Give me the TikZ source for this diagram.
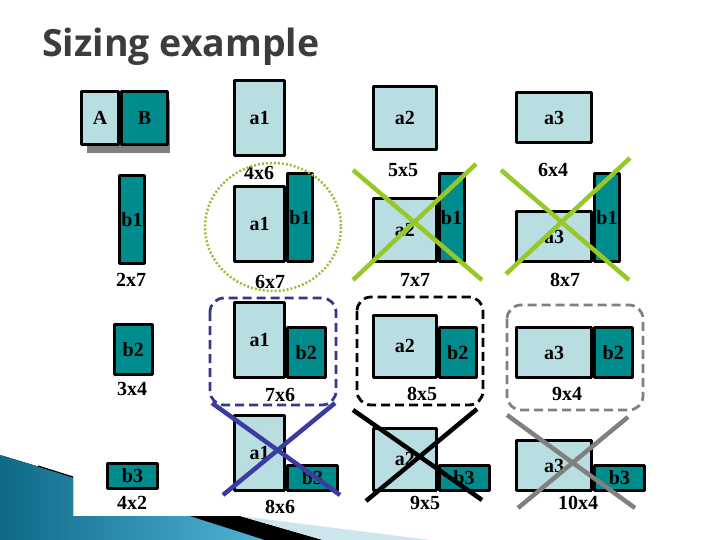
\documentclass[tikz,border=0pt]{standalone}
\usepackage{fontspec}
\setmainfont{Liberation Serif}
\newfontfamily\titlefont{Open Sans}
\usetikzlibrary{positioning}
\definecolor{lightpiece}{RGB}{185,222,226}
\definecolor{tealpiece}{RGB}{0,140,140}
\definecolor{titlegray}{RGB}{60,60,60}
\definecolor{okgreen}{RGB}{155,190,55}
\definecolor{xgreen}{RGB}{150,200,40}
\definecolor{navy}{RGB}{55,55,140}
\definecolor{xnavy}{RGB}{60,60,160}
\definecolor{midgray}{RGB}{128,128,128}
\definecolor{wavedark}{RGB}{15,105,135}
\definecolor{wavelight}{RGB}{80,180,215}
\definecolor{wavepale}{RGB}{205,230,238}
\tikzset{
	piece/.style={draw=black, line width=3pt, inner sep=0pt, anchor=south west,
		font=\bfseries\fontsize{20}{20}\selectfont},
	pa/.style={piece, fill=lightpiece},
	pb/.style={piece, fill=tealpiece},
	size a1/.style={pa, minimum width=50pt, minimum height=75pt},
	size a2/.style={pa, minimum width=62.5pt, minimum height=62.5pt},
	size a3/.style={pa, minimum width=75pt, minimum height=50pt},
	size b1/.style={pb, minimum width=25pt, minimum height=87.5pt},
	size b2/.style={pb, minimum width=37.5pt, minimum height=50pt},
	size b3/.style={pb, minimum width=50pt, minimum height=25pt},
	dimlabel/.style={font=\bfseries\fontsize{20}{20}\selectfont, inner sep=1pt},
	cross/.style={line width=4.5pt, line cap=butt},
	choice/.style={line width=2.8pt, dash pattern=on 9pt off 5pt, rounded corners=14pt}
}
\begin{document}
\begin{tikzpicture}[x=1pt,y=-1pt,line join=round]
	\useasboundingbox (0,0) rectangle (720,540);
	% Bottom wave of the slide
	\fill[left color=wavedark, right color=wavelight] (0,455) -- (73,477) -- (73,516) -- (190,516) -- (265,540) -- (0,540) -- cycle;
	\fill[black] (190,516) -- (240,516) -- (323,540) -- (265,540) -- cycle;
	\fill[wavepale] (240,516) -- (430,540) -- (323,540) -- cycle;
	\draw[line width=1.2pt] (38,466) -- (73,477);
	
	% Title
	\node[anchor=base west, inner sep=0pt, text=titlegray, font=\titlefont\bfseries\fontsize{37.5}{37.5}\selectfont] (title) at (42,57) {Sizing example};
	
	% Box A|B with its shadow
	\fill[midgray] (87,100) rectangle (170,153);
	\node[pa, minimum width=37pt, minimum height=53pt] (A) at (80,146) {A};
	\node[pb, minimum width=46pt, minimum height=53pt] (B) at (A.south east) {B};
	
	% Single pieces
	\node[size a1] (a1) at (233,157) {a1};
	\node[size a2] (a2) at (372,151) {a2};
	\node[size a3] (a3) at (515,144) {a3};
	\node[size b1] (b1) at (118,265) {b1};
	\node[size b2] (b2) at (113,376) {b2};
	\node[size b3] (b3) at (106,490) {b3};
	
	% Pairs with b1
	\node[size a1] (a1b1) at (233,263) {a1};
	\node[size b1] (b1a1) at (a1b1.south east) {b1};
	\node[size a2] (a2b1) at (372,263) {a2};
	\node[size b1] (b1a2) at (a2b1.south east) {b1};
	\node[size a3] (a3b1) at (515,263) {a3};
	\node[size b1] (b1a3) at (a3b1.south east) {b1};
	
	% Pairs with b2
	\node[size a1] (a1b2) at (233,379) {a1};
	\node[size b2] (b2a1) at (a1b2.south east) {b2};
	\node[size a2] (a2b2) at (372,379) {a2};
	\node[size b2] (b2a2) at (a2b2.south east) {b2};
	\node[size a3] (a3b2) at (515,379) {a3};
	\node[size b2] (b2a3) at (a3b2.south east) {b2};
	
	% Pairs with b3
	\node[size a1] (a1b3) at (233,492) {a1};
	\node[size b3] (b3a1) at (a1b3.south east) {b3};
	\node[size a2] (a2b3) at (372,492) {a2};
	\node[size b3] (b3a2) at (a2b3.south east) {b3};
	\node[size a3] (a3b3) at (515,492) {a3};
	\node[size b3] (b3a3) at (a3b3.south east) {b3};
	
	% Size labels
	\foreach \t/\x/\y in {4x6/259/173, 5x5/403/170, 6x4/553/170, 2x7/131/280, 6x7/270/282,
		7x7/415/280, 8x7/565/280, 3x4/132/389, 7x6/280/395, 8x5/422/394, 9x4/567/394,
		4x2/132/503, 8x6/280/507, 9x5/425/503, 10x4/578/503}
	\node[dimlabel] (l\t) at (\x,\y) {\t};
	
	% Kept pairs
	\draw[okgreen, line width=2.5pt, dash pattern=on 2pt off 2pt] (273,227) ellipse [x radius=68, y radius=64];
	\draw[choice, navy] (210,298) rectangle (336,405);
	\draw[choice, black] (357,297) rectangle (483,405);
	\draw[choice, midgray] (507,305) rectangle (643,410);
	
	% Rejected pairs
	\draw[cross, xgreen] (353,170) -- (482,280) (353,280) -- (476,164);
	\draw[cross, xgreen] (501,170) -- (629,280) (506,274) -- (630,158);
	\draw[cross, xnavy] (212,403) -- (340,495) (223,495) -- (335,403);
	\draw[cross, black] (353,410) -- (482,500) (366,501) -- (477,409);
	\draw[cross, midgray] (507,415) -- (635,508) (518,508) -- (628,417);
\end{tikzpicture}
\end{document}
